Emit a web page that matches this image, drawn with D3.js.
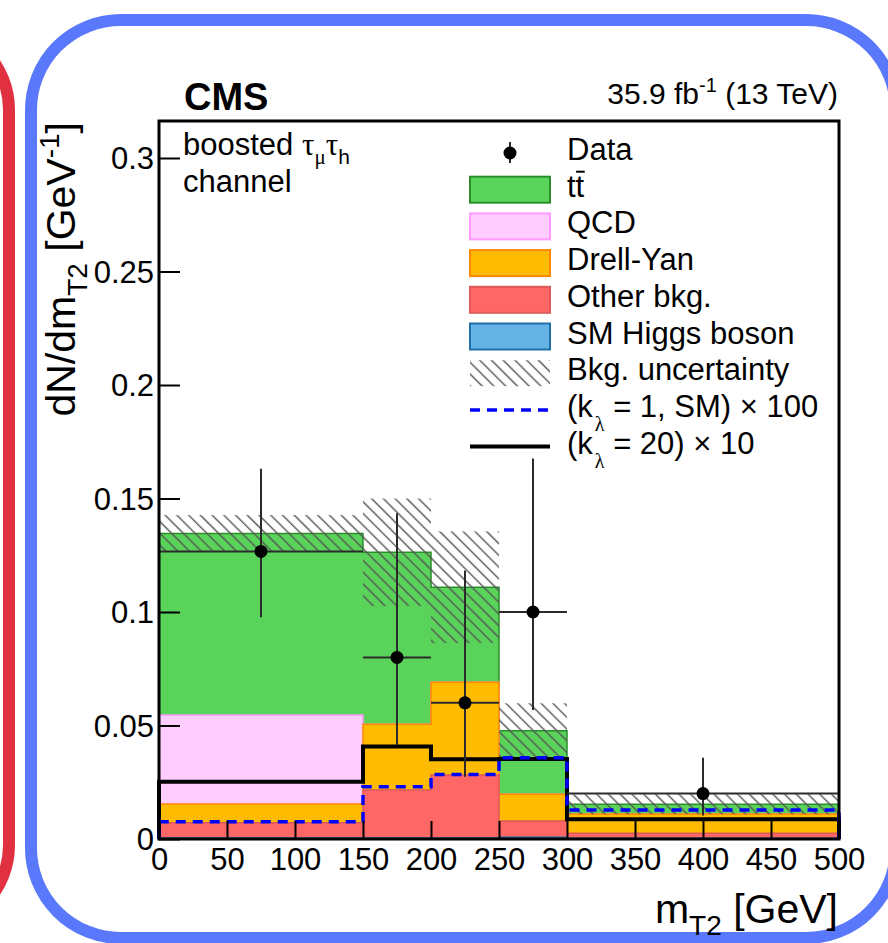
<!DOCTYPE html>
<html>
<head>
<meta charset="utf-8">
<script src="https://cdn.jsdelivr.net/npm/d3@7"></script>
<style>
  html, body { margin: 0; padding: 0; background: #fff; }
  svg { display: block; font-family: "Liberation Sans", Arial, Helvetica, sans-serif; }
</style>
</head>
<body>
<svg id="chart" width="888" height="943"></svg>
<script>
// m_T2 binning (GeV) and axis ticks
const binEdges = [0, 150, 200, 250, 300, 500];
const xTickValues = [0, 50, 100, 150, 200, 250, 300, 350, 400, 450, 500];
const xTickLabels = ["0", "50", "100", "150", "200", "250", "300", "350", "400", "450", "500"];
const yTickValues = [0, 0.05, 0.1, 0.15, 0.2, 0.25, 0.3];
const yTickLabels = ["0", "0.05", "0.1", "0.15", "0.2", "0.25", "0.3"];

// Background contributions per bin (dN/dm_T2, GeV^-1), stacked bottom to top
const higgs    = [0.0004, 0.0004, 0.0004, 0.0008, 0.0003];
const otherBkg = [0.0068, 0.0212, 0.0278, 0.0071, 0.0022];
const drellYan = [0.0082, 0.0289, 0.0408, 0.0118, 0.0085];
const qcd      = [0.0392, 0.0000, 0.0000, 0.0000, 0.0000];
const ttbar    = [0.0800, 0.0758, 0.0419, 0.0280, 0.0043];
const bkgUnc   = [0.0081, 0.0237, 0.0246, 0.0121, 0.0044];

// Signal hypotheses (scaled)
const sigSM  = [0.0076, 0.0230, 0.0284, 0.0358, 0.0128];
const sigK20 = [0.0252, 0.0407, 0.0351, 0.0352, 0.0087];

// Observed data with asymmetric errors
const dataX     = [75, 175, 225, 275, 400];
const dataY     = [0.1267, 0.0800, 0.0600, 0.1000, 0.0200];
const dataErrLo = [0.0290, 0.0386, 0.0326, 0.0432, 0.0096];
const dataErrHi = [0.0364, 0.0635, 0.0583, 0.0676, 0.0158];

const svg = d3.select("#chart");
const FS = 31;

// Decorative rounded panel borders
svg.append("rect").attr("x", -500).attr("y", 26).attr("width", 509).attr("height", 903)
  .attr("rx", 84).attr("fill", "none").attr("stroke", "#e1303f").attr("stroke-width", 12);
svg.append("rect").attr("x", 31).attr("y", 20).attr("width", 865).attr("height", 918)
  .attr("rx", 90).attr("fill", "none").attr("stroke", "#5a78fb").attr("stroke-width", 12);

const x = d3.scaleLinear().domain([0, 500]).range([159, 839]);
const y = d3.scaleLinear().domain([0, 0.3163]).range([839, 121]);

const bins = binEdges.slice(0, -1).map((lo, i) => ({
  lo, hi: binEdges[i + 1],
  higgs: higgs[i], other: otherBkg[i], dy: drellYan[i], qcd: qcd[i], tt: ttbar[i]
}));

const keys = ["higgs", "other", "dy", "qcd", "tt"];
const fills   = { higgs: "#66b3e6", other: "#ff6666", dy: "#ffbb00", qcd: "#ffccff", tt: "#5ad35a" };
const strokes = { higgs: "#1f6fa8", other: "#dd5a5a", dy: "#ff8800", qcd: "#ff99ff", tt: "#2a8f2a" };

const stacked = d3.stack().keys(keys)(bins);

// Step outline points: value held from each low edge, closed at the last edge
function stepPoints(vals) {
  const pts = vals.map((v, i) => ({ e: binEdges[i], v }));
  pts.push({ e: binEdges[binEdges.length - 1], v: vals[vals.length - 1] });
  return pts;
}

const area = d3.area().x(d => x(d.e)).y0(y(0)).y1(d => y(d.v)).curve(d3.curveStepAfter);

const gStack = svg.append("g");
// draw tallest cumulative layer first so smaller ones sit on top
stacked.slice().reverse().forEach(layer => {
  const tops = layer.map(d => d[1]);
  gStack.append("path")
    .attr("d", area(stepPoints(tops)))
    .attr("fill", fills[layer.key])
    .attr("stroke", strokes[layer.key])
    .attr("stroke-width", 1.5);
});

// Hatched uncertainty band
const defs = svg.append("defs");
defs.append("pattern").attr("id", "hatch").attr("patternUnits", "userSpaceOnUse")
  .attr("width", 8.3).attr("height", 8.3).attr("patternTransform", "rotate(-45)")
  .append("line").attr("x1", 1.5).attr("y1", 0).attr("x2", 1.5).attr("y2", 8.3)
  .attr("stroke", "#555").attr("stroke-width", 1.4);

const totals = bins.map((b, i) => higgs[i] + otherBkg[i] + drellYan[i] + qcd[i] + ttbar[i]);
svg.append("g").selectAll("rect").data(bins).join("rect")
  .attr("x", d => x(d.lo)).attr("width", d => x(d.hi) - x(d.lo))
  .attr("y", (d, i) => y(totals[i] + bkgUnc[i]))
  .attr("height", (d, i) => y(totals[i] - bkgUnc[i]) - y(totals[i] + bkgUnc[i]))
  .attr("fill", "url(#hatch)");

// Signal step lines
function sigPoints(vals) {
  const pts = [{ e: 0, v: 0 }].concat(stepPoints(vals));
  pts.push({ e: binEdges[binEdges.length - 1], v: 0 });
  return pts;
}
const line = d3.line().x(d => x(d.e)).y(d => y(d.v)).curve(d3.curveStepAfter);
svg.append("path").attr("d", line(sigPoints(sigK20)))
  .attr("fill", "none").attr("stroke", "#000").attr("stroke-width", 4);
svg.append("path").attr("d", line(sigPoints(sigSM)))
  .attr("fill", "none").attr("stroke", "#0000ff").attr("stroke-width", 3.5)
  .attr("stroke-dasharray", "10,7");

// Data points
const gData = svg.append("g");
dataX.forEach((xv, i) => {
  const b = bins.find(bb => xv >= bb.lo && xv < bb.hi);
  gData.append("line").attr("x1", x(b.lo)).attr("x2", x(b.hi))
    .attr("y1", y(dataY[i])).attr("y2", y(dataY[i]))
    .attr("stroke", "#2b2b2b").attr("stroke-width", 2);
  gData.append("line").attr("x1", x(xv)).attr("x2", x(xv))
    .attr("y1", y(dataY[i] - dataErrLo[i])).attr("y2", y(dataY[i] + dataErrHi[i]))
    .attr("stroke", "#2b2b2b").attr("stroke-width", 2);
  gData.append("circle").attr("cx", x(xv)).attr("cy", y(dataY[i])).attr("r", 6.5).attr("fill", "#000");
});

// Axes with inward ticks
const minorX = d3.range(0, 501, 10).filter(v => v % 50 !== 0);
const minorY = d3.range(0, 32).map(v => v / 100).filter(v => Math.round(v * 100) % 5 !== 0);

const gx = svg.append("g").attr("transform", "translate(0,839)");
gx.call(d3.axisBottom(x).tickValues(minorX).tickSizeInner(-9).tickSizeOuter(0).tickFormat(""));
gx.call(d3.axisBottom(x).tickValues(xTickValues).tickSizeInner(-18).tickSizeOuter(0)
  .tickFormat((d, i) => xTickLabels[i]));
gx.selectAll(".domain").remove();
gx.selectAll("line").attr("stroke", "#000").attr("stroke-width", 2);
gx.selectAll("text").attr("y", 31).attr("dy", null)
  .attr("font-size", FS).attr("font-family", "Liberation Sans, Arial, sans-serif").attr("fill", "#000");

const gy = svg.append("g").attr("transform", "translate(159,0)");
gy.call(d3.axisLeft(y).tickValues(minorY).tickSizeInner(-11).tickSizeOuter(0).tickFormat(""));
gy.call(d3.axisLeft(y).tickValues(yTickValues).tickSizeInner(-21).tickSizeOuter(0)
  .tickFormat((d, i) => yTickLabels[i]));
gy.selectAll(".domain").remove();
gy.selectAll("line").attr("stroke", "#000").attr("stroke-width", 2);
gy.selectAll("text").attr("x", -5).attr("dy", "0.34em")
  .attr("font-size", FS).attr("font-family", "Liberation Sans, Arial, sans-serif").attr("fill", "#000");

// Frame
svg.append("rect").attr("x", 159).attr("y", 121).attr("width", 680).attr("height", 718)
  .attr("fill", "none").attr("stroke", "#000").attr("stroke-width", 3);

// Axis titles
const yt = svg.append("text").attr("transform", "translate(75,122) rotate(-90)")
  .attr("text-anchor", "end").attr("font-size", 41);
yt.append("tspan").text("dN/dm");
yt.append("tspan").attr("font-size", 28).attr("dy", 12).text("T2");
yt.append("tspan").attr("dy", -12).text(" [GeV");
yt.append("tspan").attr("font-size", 28).attr("dy", -16).text("-1");
yt.append("tspan").attr("dy", 16).text("]");

const xt = svg.append("text").attr("x", 838).attr("y", 923).attr("text-anchor", "end").attr("font-size", 41);
xt.append("tspan").text("m");
xt.append("tspan").attr("font-size", 28).attr("dy", 12).text("T2");
xt.append("tspan").attr("dy", -12).text(" [GeV]");

// Header texts
svg.append("text").attr("x", 184).attr("y", 110).attr("font-size", 38).attr("font-weight", "bold").text("CMS");
const lumi = svg.append("text").attr("x", 838).attr("y", 104).attr("text-anchor", "end").attr("font-size", 30);
lumi.append("tspan").text("35.9 fb");
lumi.append("tspan").attr("font-size", 20).attr("dy", -12).text("-1");
lumi.append("tspan").attr("dy", 12).text(" (13 TeV)");

const chan = svg.append("text").attr("x", 183).attr("y", 155).attr("font-size", FS);
chan.append("tspan").text("boosted ");
chan.append("tspan").attr("font-family", "Liberation Serif, serif").text("τ");
chan.append("tspan").attr("font-family", "Liberation Serif, serif").attr("font-size", 21).attr("dy", 9).text("μ");
chan.append("tspan").attr("font-family", "Liberation Serif, serif").attr("dy", -9).text("τ");
chan.append("tspan").attr("font-size", 21).attr("dy", 9).text("h");
svg.append("text").attr("x", 183).attr("y", 192).attr("font-size", FS).text("channel");

// Legend
const legX = 470, legW = 80, legTextX = 567, rowH = 36.7, row0 = 153;
const legendEntries = [
  { type: "data", label: "Data" },
  { type: "box", key: "tt", label: "tt" },
  { type: "box", key: "qcd", label: "QCD" },
  { type: "box", key: "dy", label: "Drell-Yan" },
  { type: "box", key: "other", label: "Other bkg." },
  { type: "box", key: "higgs", label: "SM Higgs boson" },
  { type: "hatch", label: "Bkg. uncertainty" },
  { type: "dash", label: "= 1, SM) × 100" },
  { type: "solid", label: "= 20) × 10" }
];
const gLeg = svg.append("g");
legendEntries.forEach((e, i) => {
  const cy = row0 + i * rowH;
  if (e.type === "data") {
    gLeg.append("line").attr("x1", 510).attr("x2", 510).attr("y1", cy - 11).attr("y2", cy + 10)
      .attr("stroke", "#2b2b2b").attr("stroke-width", 2);
    gLeg.append("circle").attr("cx", 510).attr("cy", cy).attr("r", 6.5).attr("fill", "#000");
  } else if (e.type === "box") {
    gLeg.append("rect").attr("x", legX).attr("y", cy - 13).attr("width", legW).attr("height", 26)
      .attr("fill", fills[e.key]).attr("stroke", strokes[e.key]).attr("stroke-width", 2);
  } else if (e.type === "hatch") {
    gLeg.append("rect").attr("x", legX).attr("y", cy - 13).attr("width", legW).attr("height", 26)
      .attr("fill", "url(#hatch)");
  } else if (e.type === "dash") {
    gLeg.append("line").attr("x1", legX).attr("x2", legX + 78).attr("y1", cy).attr("y2", cy)
      .attr("stroke", "#0000ff").attr("stroke-width", 3.5).attr("stroke-dasharray", "10,7");
  } else if (e.type === "solid") {
    gLeg.append("line").attr("x1", legX).attr("x2", legX + 80).attr("y1", cy).attr("y2", cy)
      .attr("stroke", "#000").attr("stroke-width", 4);
  }
  const t = gLeg.append("text").attr("x", legTextX).attr("y", cy + 7).attr("font-size", FS);
  if (e.type === "dash" || e.type === "solid") {
    t.append("tspan").text("(k");
    t.append("tspan").attr("font-family", "Liberation Serif, serif").attr("font-size", 20)
      .attr("dx", 2).attr("dy", 14).text("λ");
    t.append("tspan").attr("dy", -14).text(" " + e.label);
  } else {
    t.text(e.label);
  }
  if (e.key === "tt") {
    // bar over the second t
    const node = t.node();
    const w1 = node.getSubStringLength(0, 1), w2 = node.getSubStringLength(1, 1);
    gLeg.append("line").attr("x1", legTextX + w1 + 0.5).attr("x2", legTextX + w1 + w2 + 0.5)
      .attr("y1", cy + 7 - 25).attr("y2", cy + 7 - 25)
      .attr("stroke", "#000").attr("stroke-width", 2);
  }
});
</script>
</body>
</html>
